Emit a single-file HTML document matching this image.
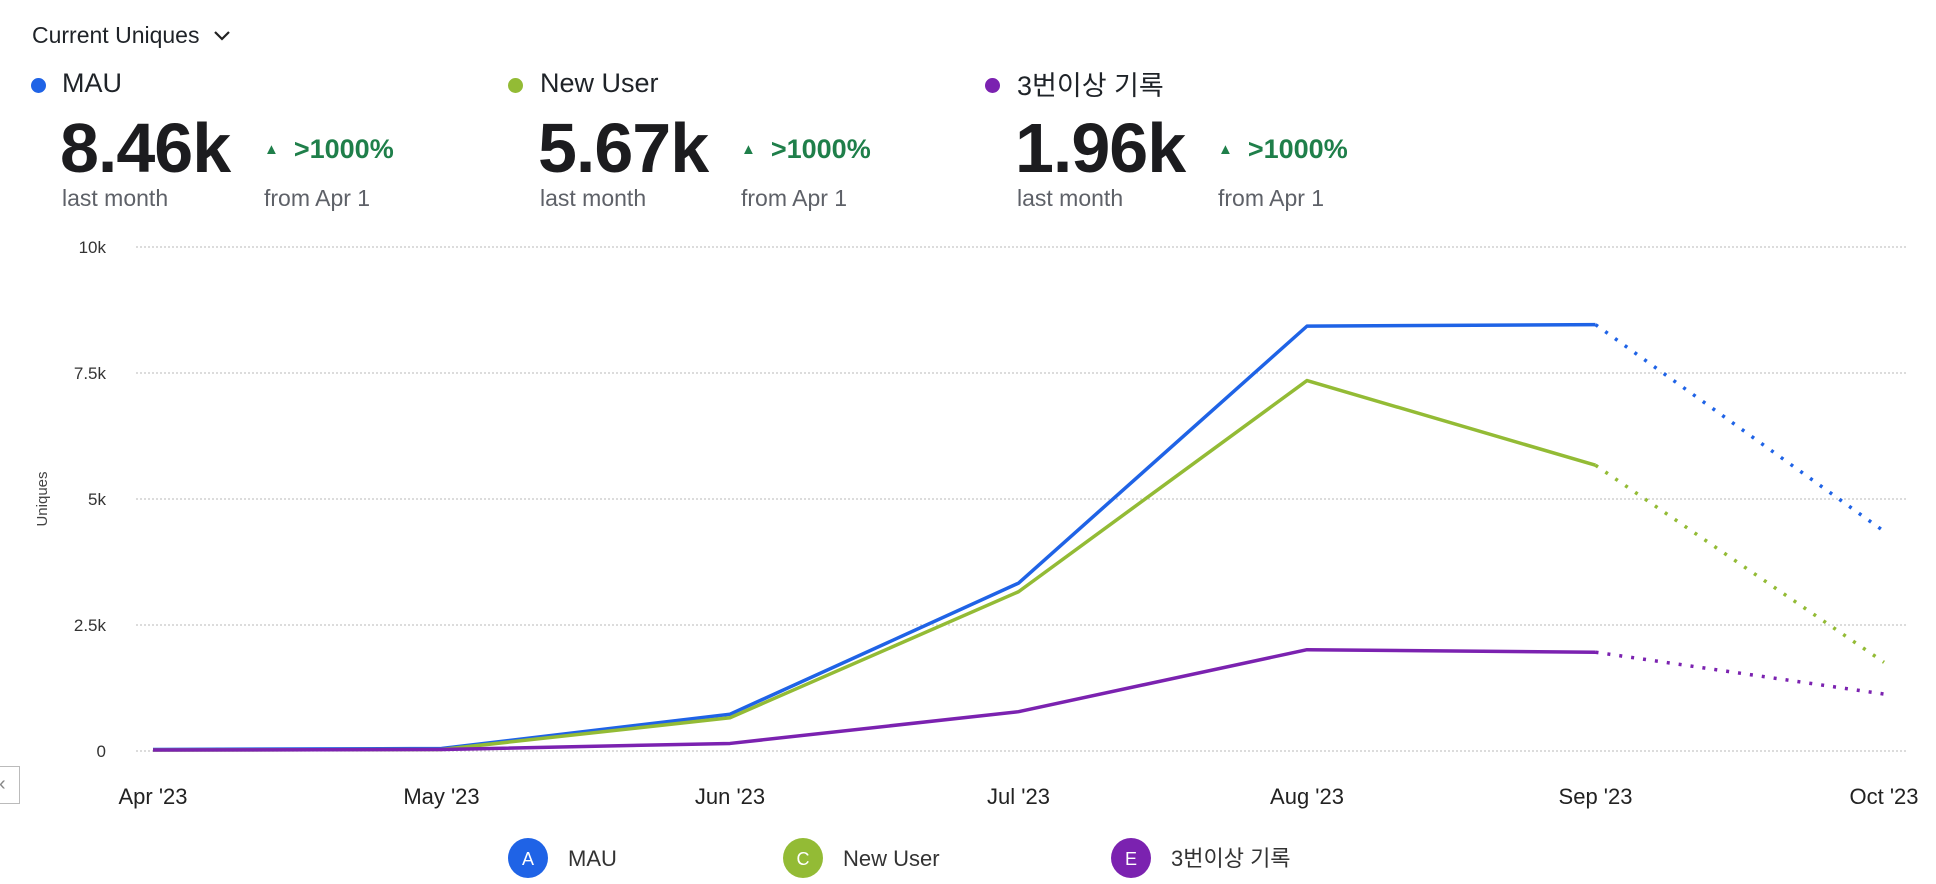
<!DOCTYPE html>
<html><head><meta charset="utf-8"><style>
body{margin:0;width:1936px;height:884px;background:#fff;font-family:"Liberation Sans","Noto Sans CJK KR",sans-serif;color:#1f2328;overflow:hidden;position:relative}
.abs{position:absolute;white-space:nowrap}
.dot{position:absolute;width:15px;height:15px;border-radius:50%}
.name{font-size:27px;color:#1f2328}
.big{font-size:70px;font-weight:600;letter-spacing:-1px;color:#1c1c1f}
.pct{font-size:27px;font-weight:600;color:#1f7f4a}
.sub{font-size:23px;color:#5e6168}
</style></head><body>
<div class="abs" style="left:32px;top:22px;font-size:23px">Current Uniques <svg width="20" height="14" style="margin-left:6px" viewBox="0 0 20 14"><path d="M3 3l7 7 7-7" fill="none" stroke="#222" stroke-width="2.2"/></svg></div>

<div>
<div class="dot" style="left:31px;top:78px;background:#1f63e6"></div>
<div class="abs name" style="left:62px;top:68px">MAU</div>
<div class="abs big" style="left:60px;top:108px">8.46k</div>
<div class="abs pct" style="left:264px;top:134px"><span style="font-size:15px;vertical-align:4px">▲</span>&nbsp; &gt;1000%</div>
<div class="abs sub" style="left:62px;top:185px">last month</div>
<div class="abs sub" style="left:264px;top:185px">from Apr 1</div>
</div>
<div>
<div class="dot" style="left:508px;top:78px;background:#93bb35"></div>
<div class="abs name" style="left:540px;top:68px">New User</div>
<div class="abs big" style="left:538px;top:108px">5.67k</div>
<div class="abs pct" style="left:741px;top:134px"><span style="font-size:15px;vertical-align:4px">▲</span>&nbsp; &gt;1000%</div>
<div class="abs sub" style="left:540px;top:185px">last month</div>
<div class="abs sub" style="left:741px;top:185px">from Apr 1</div>
</div>
<div>
<div class="dot" style="left:985px;top:78px;background:#7b22b0"></div>
<div class="abs name" style="left:1017px;top:64px">3번이상 기록</div>
<div class="abs big" style="left:1015px;top:108px">1.96k</div>
<div class="abs pct" style="left:1218px;top:134px"><span style="font-size:15px;vertical-align:4px">▲</span>&nbsp; &gt;1000%</div>
<div class="abs sub" style="left:1017px;top:185px">last month</div>
<div class="abs sub" style="left:1218px;top:185px">from Apr 1</div>
</div>

<div class="abs" style="left:-2px;top:766px;width:22px;height:38px;border:1.5px solid #bbb;box-sizing:border-box;font-size:20px;color:#888;line-height:34px">‹</div>

<svg id="chart" class="abs" style="left:0;top:0" width="1936" height="884"></svg>

<script>
const months=["Apr '23","May '23","Jun '23","Jul '23","Aug '23","Sep '23","Oct '23"];
const yTicks=[0,2500,5000,7500,10000];
const yTickLabels=["0","2.5k","5k","7.5k","10k"];
const mauValues=[30,50,730,3330,8430,8460,4360];
const newUserValues=[20,30,660,3160,7350,5670,1760];
const repeatValues=[20,30,150,780,2010,1960,1130];
const NS="http://www.w3.org/2000/svg";
const svg=document.getElementById('chart');
const x0=153,dx=(1884-153)/6,yTop=247,yBot=751;
const xs=i=>x0+i*dx;
const ys=v=>yBot-(v/10000)*(yBot-yTop);
function mk(t,a){const e=document.createElementNS(NS,t);for(const k in a)e.setAttribute(k,a[k]);svg.appendChild(e);return e;}
yTicks.forEach((t,i)=>{
 const g=mk('line',{x1:136,x2:1908,y1:ys(t),y2:ys(t),stroke:'#c8c8c8','stroke-width':1.2,'stroke-dasharray':'2 2'});
 
 
 const l=mk('text',{x:106,y:ys(t)+6,'text-anchor':'end','font-size':17,fill:'#333'});
 l.textContent=yTickLabels[i];
 
 
});
months.forEach((m,i)=>{
 const l=mk('text',{x:xs(i),y:804,'text-anchor':'middle','font-size':22,fill:'#222'});
 l.textContent=m;
 
 
});
const yt=mk('text',{x:47,y:499,'text-anchor':'middle','font-size':15,fill:'#444',transform:'rotate(-90 47 499)'});
yt.textContent='Uniques';


function series(vals,color,name){
 const solid=vals.slice(0,6).map((v,i)=>xs(i)+','+ys(v)).join(' ');
 const p=mk('polyline',{points:solid,fill:'none',stroke:color,'stroke-width':3.5,'stroke-linejoin':'round'});
 
 
 const d=mk('line',{x1:xs(5),y1:ys(vals[5]),x2:xs(6),y2:ys(vals[6]),stroke:color,'stroke-width':3.5,'stroke-dasharray':'3 9'});
 
 
}
series(mauValues,'#1f63e6','mau');
series(newUserValues,'#93bb35','new-user');
series(repeatValues,'#7b22b0','repeat');
const legend=[["A","MAU","#1f63e6",528],["C","New User","#93bb35",803],["E","3번이상 기록","#7b22b0",1131]];
legend.forEach(([k,n,c,x])=>{
 const g=document.createElementNS(NS,'g');svg.appendChild(g);
 
 
 const ci=document.createElementNS(NS,'circle');ci.setAttribute('cx',x);ci.setAttribute('cy',858);ci.setAttribute('r',20);ci.setAttribute('fill',c);g.appendChild(ci);
 const t=document.createElementNS(NS,'text');t.setAttribute('x',x);t.setAttribute('y',865);t.setAttribute('text-anchor','middle');t.setAttribute('font-size',18);t.setAttribute('fill','#fff');t.textContent=k;g.appendChild(t);
 const t2=document.createElementNS(NS,'text');t2.setAttribute('x',x+40);t2.setAttribute('y',866);t2.setAttribute('font-size',22);t2.setAttribute('fill','#333');t2.textContent=n;g.appendChild(t2);
});
</script>
</body></html>
